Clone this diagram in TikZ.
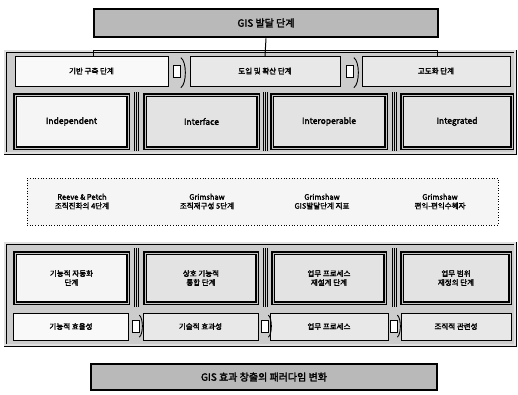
\documentclass[tikz,border=0pt]{standalone}
\usepackage{fontspec}
\setmainfont{Noto Sans CJK KR}[BoldFont={Noto Sans CJK KR}, BoldFeatures={FakeBold=2.2}]
\begin{document}
\begin{tikzpicture}[x=1pt,y=-1pt,
  every node/.style={font=\bfseries\fontsize{7.5}{9}\selectfont, inner sep=0pt, align=center},
  titlebox/.style={draw=black, line width=2.6pt, fill=gray!55, font=\bfseries\fontsize{10}{11}\selectfont},
  panel/.style={draw=black, double=gray!25, double distance=1.6pt, line width=0.7pt, fill=gray!40},
  stagebox/.style={draw=black, line width=0.7pt, fill=gray!18},
  typebox/.style={draw=black, double=gray!45, double distance=1pt, line width=1.1pt, fill=gray!22},
  lowbox/.style={draw=black, line width=0.7pt, fill=gray!18},
  midbox/.style={draw=black, dotted, line width=0.7pt, fill=gray!8},
  link/.style={draw=black, line width=1pt},
  tabrect/.style={draw=black, line width=0.7pt, fill=white, minimum width=7pt, minimum height=12pt},
  sep/.style={draw=black, line width=0.5pt}
]
\useasboundingbox (0,0) rectangle (518,394);
\fill[white] (0,0) rectangle (518,394);

% ---------- top title ----------
\node[titlebox, minimum width=344pt, minimum height=28pt] (t1) at (266,23) {GIS 발달 단계};

% ---------- panel 1 ----------
\node[panel, minimum width=510pt, minimum height=102pt] (p1) at (260,102) {};

% row 1 stage boxes
\node[stagebox, fill=gray!5, minimum width=153pt, minimum height=30pt] (s1) at (91.5,71) {기반 구축 단계};
\node[stagebox, minimum width=150pt, minimum height=30pt] (s2) at (265,71) {도입 및 확산 단계};
\node[stagebox, minimum width=148pt, minimum height=30pt] (s3) at (436,71) {고도화 단계};

\node[tabrect] (a1) at (177,71) {};
\node[tabrect] (a2) at (350,71) {};
\draw[line width=0.9pt] (a1.north east) ++(0,-7) .. controls +(6,4) and +(6,-4) .. ++(0,30);
\draw[line width=0.9pt] (a2.north east) ++(0,-7) .. controls +(6,4) and +(6,-4) .. ++(0,30);

% tree from title
\coordinate (bl) at (93,50);
\coordinate (br) at (437,50);
\draw[link] (t1.south) -- (265,56);
\draw[link] (bl) -- (br);
\draw[link] (bl) -- (93,56);
\draw[link] (br) -- (437,56);

% row 2 type boxes
\node[typebox, fill=gray!8, minimum width=113pt, minimum height=53pt] (i1) at (71.5,121.5) {\fontsize{8.5}{10}\selectfont Independent};
\node[typebox, minimum width=113pt, minimum height=53pt] (i2) at (201.5,121.5) {\fontsize{8.5}{10}\selectfont Interface};
\node[typebox, minimum width=114pt, minimum height=53pt] (i3) at (329,121.5) {\fontsize{8.5}{10}\selectfont Interoperable};
\node[typebox, minimum width=110pt, minimum height=53pt] (i4) at (457,121.5) {\fontsize{8.5}{10}\selectfont Integrated};
\foreach \x in {134,136,138,263,265,267,392,394,396} \draw[sep] (\x,92) -- (\x,151);

% ---------- middle dotted box ----------
\node[midbox, minimum width=471pt, minimum height=47pt] (m) at (262.5,201.5) {};
\node (m1) at (82,201.5) {Reeve \& Petch\\조직진화의 4단계};
\node (m2) at (207,201.5) {Grimshaw\\조직재구성 5단계};
\node (m3) at (322,201.5) {Grimshaw\\GIS발달단계 지표};
\node (m4) at (440,201.5) {Grimshaw\\편익-편익수혜자};

% ---------- panel 2 ----------
\node[panel, minimum width=510pt, minimum height=102pt] (p2) at (260,294) {};

\node[typebox, fill=gray!8, minimum width=113pt, minimum height=50pt] (g1) at (71.5,278) {기능적 자동화\\단계};
\node[typebox, minimum width=112pt, minimum height=50pt] (g2) at (201,278) {상호 기능적\\통합 단계};
\node[typebox, minimum width=112pt, minimum height=50pt] (g3) at (329,278) {업무 프로세스\\재설계 단계};
\node[typebox, minimum width=108pt, minimum height=50pt] (g4) at (456,278) {업무 범위\\재정의 단계};
\foreach \x in {134,136,138,263,265,267,392,394,396} \draw[sep] (\x,248) -- (\x,307);

\node[lowbox, fill=gray!5, minimum width=115pt, minimum height=27pt] (e1) at (71,326.5) {기능적 효율성};
\node[lowbox, minimum width=115pt, minimum height=27pt] (e2) at (200.5,326.5) {기술적 효과성};
\node[lowbox, minimum width=118pt, minimum height=27pt] (e3) at (329,326.5) {업무 프로세스};
\node[lowbox, minimum width=110pt, minimum height=27pt] (e4) at (456,326.5) {조직적 관련성};

\node[tabrect] (b1) at (135.5,326.5) {};
\node[tabrect] (b2) at (264.5,326.5) {};
\node[tabrect] (b3) at (393.5,326.5) {};
\foreach \b in {b1,b2,b3}
  \draw[line width=0.9pt] (\b.north east) ++(0,-5) .. controls +(4,3) and +(4,-3) .. ++(0,22);

% ---------- bottom title ----------
\node[titlebox, minimum width=346pt, minimum height=26pt] (t2) at (264,377) {GIS 효과 창출의 패러다임 변화};
\end{tikzpicture}
\end{document}
